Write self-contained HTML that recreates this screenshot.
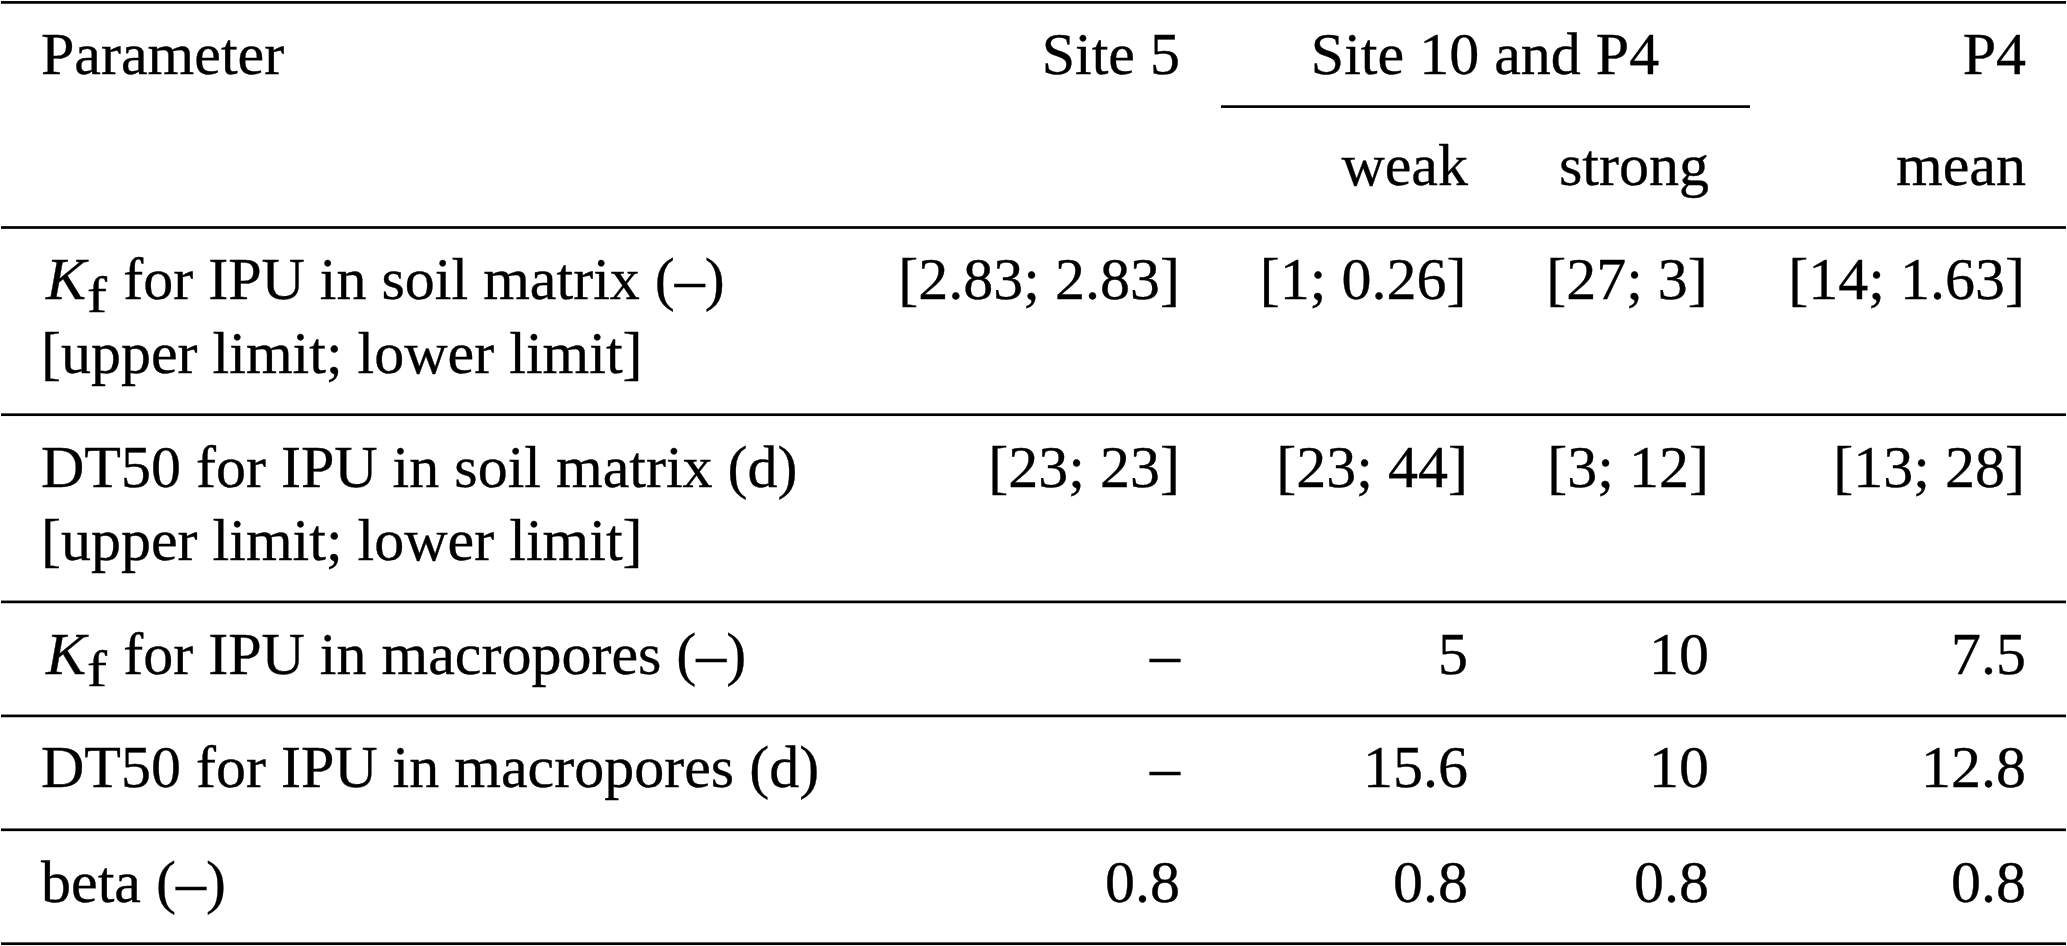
<!DOCTYPE html>
<html><head><meta charset="utf-8"><style>
html,body{margin:0;padding:0;background:#fff;}
body{width:2067px;height:946px;position:relative;overflow:hidden;font-family:"Liberation Serif",serif;color:#000;}
.t{position:absolute;white-space:pre;line-height:60px;font-size:60px;-webkit-text-stroke:0.35px #000;}
.k{margin-left:3px}
.sub{font-size:50px;position:relative;top:12.75px;display:inline-block;transform:scaleX(1.2);transform-origin:left;margin-left:1px;}
.after{margin-left:4.5px}
svg{position:absolute;left:0;top:0;}
</style></head><body>
<svg width="2067" height="946"><rect x="1" y="1.05" width="2065" height="2.7" fill="#000"/><rect x="1" y="226.15" width="2065" height="2.7" fill="#000"/><rect x="1221" y="105.25" width="529" height="2.7" fill="#000"/><rect x="1" y="413.35" width="2065" height="2.7" fill="#000"/><rect x="1" y="600.55" width="2065" height="2.7" fill="#000"/><rect x="1" y="714.55" width="2065" height="2.7" fill="#000"/><rect x="1" y="828.45" width="2065" height="2.7" fill="#000"/><rect x="1" y="942.35" width="2065" height="2.7" fill="#000"/></svg>
<div class="t" style="top:24.00px;left:41px">Parameter</div>
<div class="t" style="top:24.00px;right:887px">Site 5</div>
<div class="t" style="top:24.00px;left:985px;width:1000px;text-align:center">Site 10 and P4</div>
<div class="t" style="top:24.00px;right:41px">P4</div>
<div class="t" style="top:135.40px;right:599px">weak</div>
<div class="t" style="top:135.40px;right:358px">strong</div>
<div class="t" style="top:135.40px;right:41px">mean</div>
<div class="t" style="top:249.20px;left:43px"><i class="k">K</i><span class="sub">f</span><span class="after"> for IPU in soil matrix (–)</span></div>
<div class="t" style="top:323.00px;left:41px">[upper limit; lower limit]</div>
<div class="t" style="top:249.20px;right:887px">[2.83; 2.83]</div>
<div class="t" style="top:249.20px;right:600.5px">[1; 0.26]</div>
<div class="t" style="top:249.20px;right:359.20000000000005px">[27; 3]</div>
<div class="t" style="top:249.20px;right:42px">[14; 1.63]</div>
<div class="t" style="top:436.70px;left:41px">DT50 for IPU in soil matrix (d)</div>
<div class="t" style="top:510.40px;left:41px">[upper limit; lower limit]</div>
<div class="t" style="top:436.70px;right:887px">[23; 23]</div>
<div class="t" style="top:436.70px;right:599px">[23; 44]</div>
<div class="t" style="top:436.70px;right:358px">[3; 12]</div>
<div class="t" style="top:436.70px;right:42px">[13; 28]</div>
<div class="t" style="top:623.60px;left:43px"><i class="k">K</i><span class="sub">f</span><span class="after"> for IPU in macropores (–)</span></div>
<div class="t" style="top:623.60px;right:887px">–</div>
<div class="t" style="top:623.60px;right:599px">5</div>
<div class="t" style="top:623.60px;right:358px">10</div>
<div class="t" style="top:623.60px;right:41px">7.5</div>
<div class="t" style="top:737.40px;left:41px">DT50 for IPU in macropores (d)</div>
<div class="t" style="top:737.40px;right:887px">–</div>
<div class="t" style="top:737.40px;right:599px">15.6</div>
<div class="t" style="top:737.40px;right:358px">10</div>
<div class="t" style="top:737.40px;right:41px">12.8</div>
<div class="t" style="top:852.30px;left:41px">beta (–)</div>
<div class="t" style="top:852.30px;right:887px">0.8</div>
<div class="t" style="top:852.30px;right:599px">0.8</div>
<div class="t" style="top:852.30px;right:358px">0.8</div>
<div class="t" style="top:852.30px;right:41px">0.8</div>
</body></html>
